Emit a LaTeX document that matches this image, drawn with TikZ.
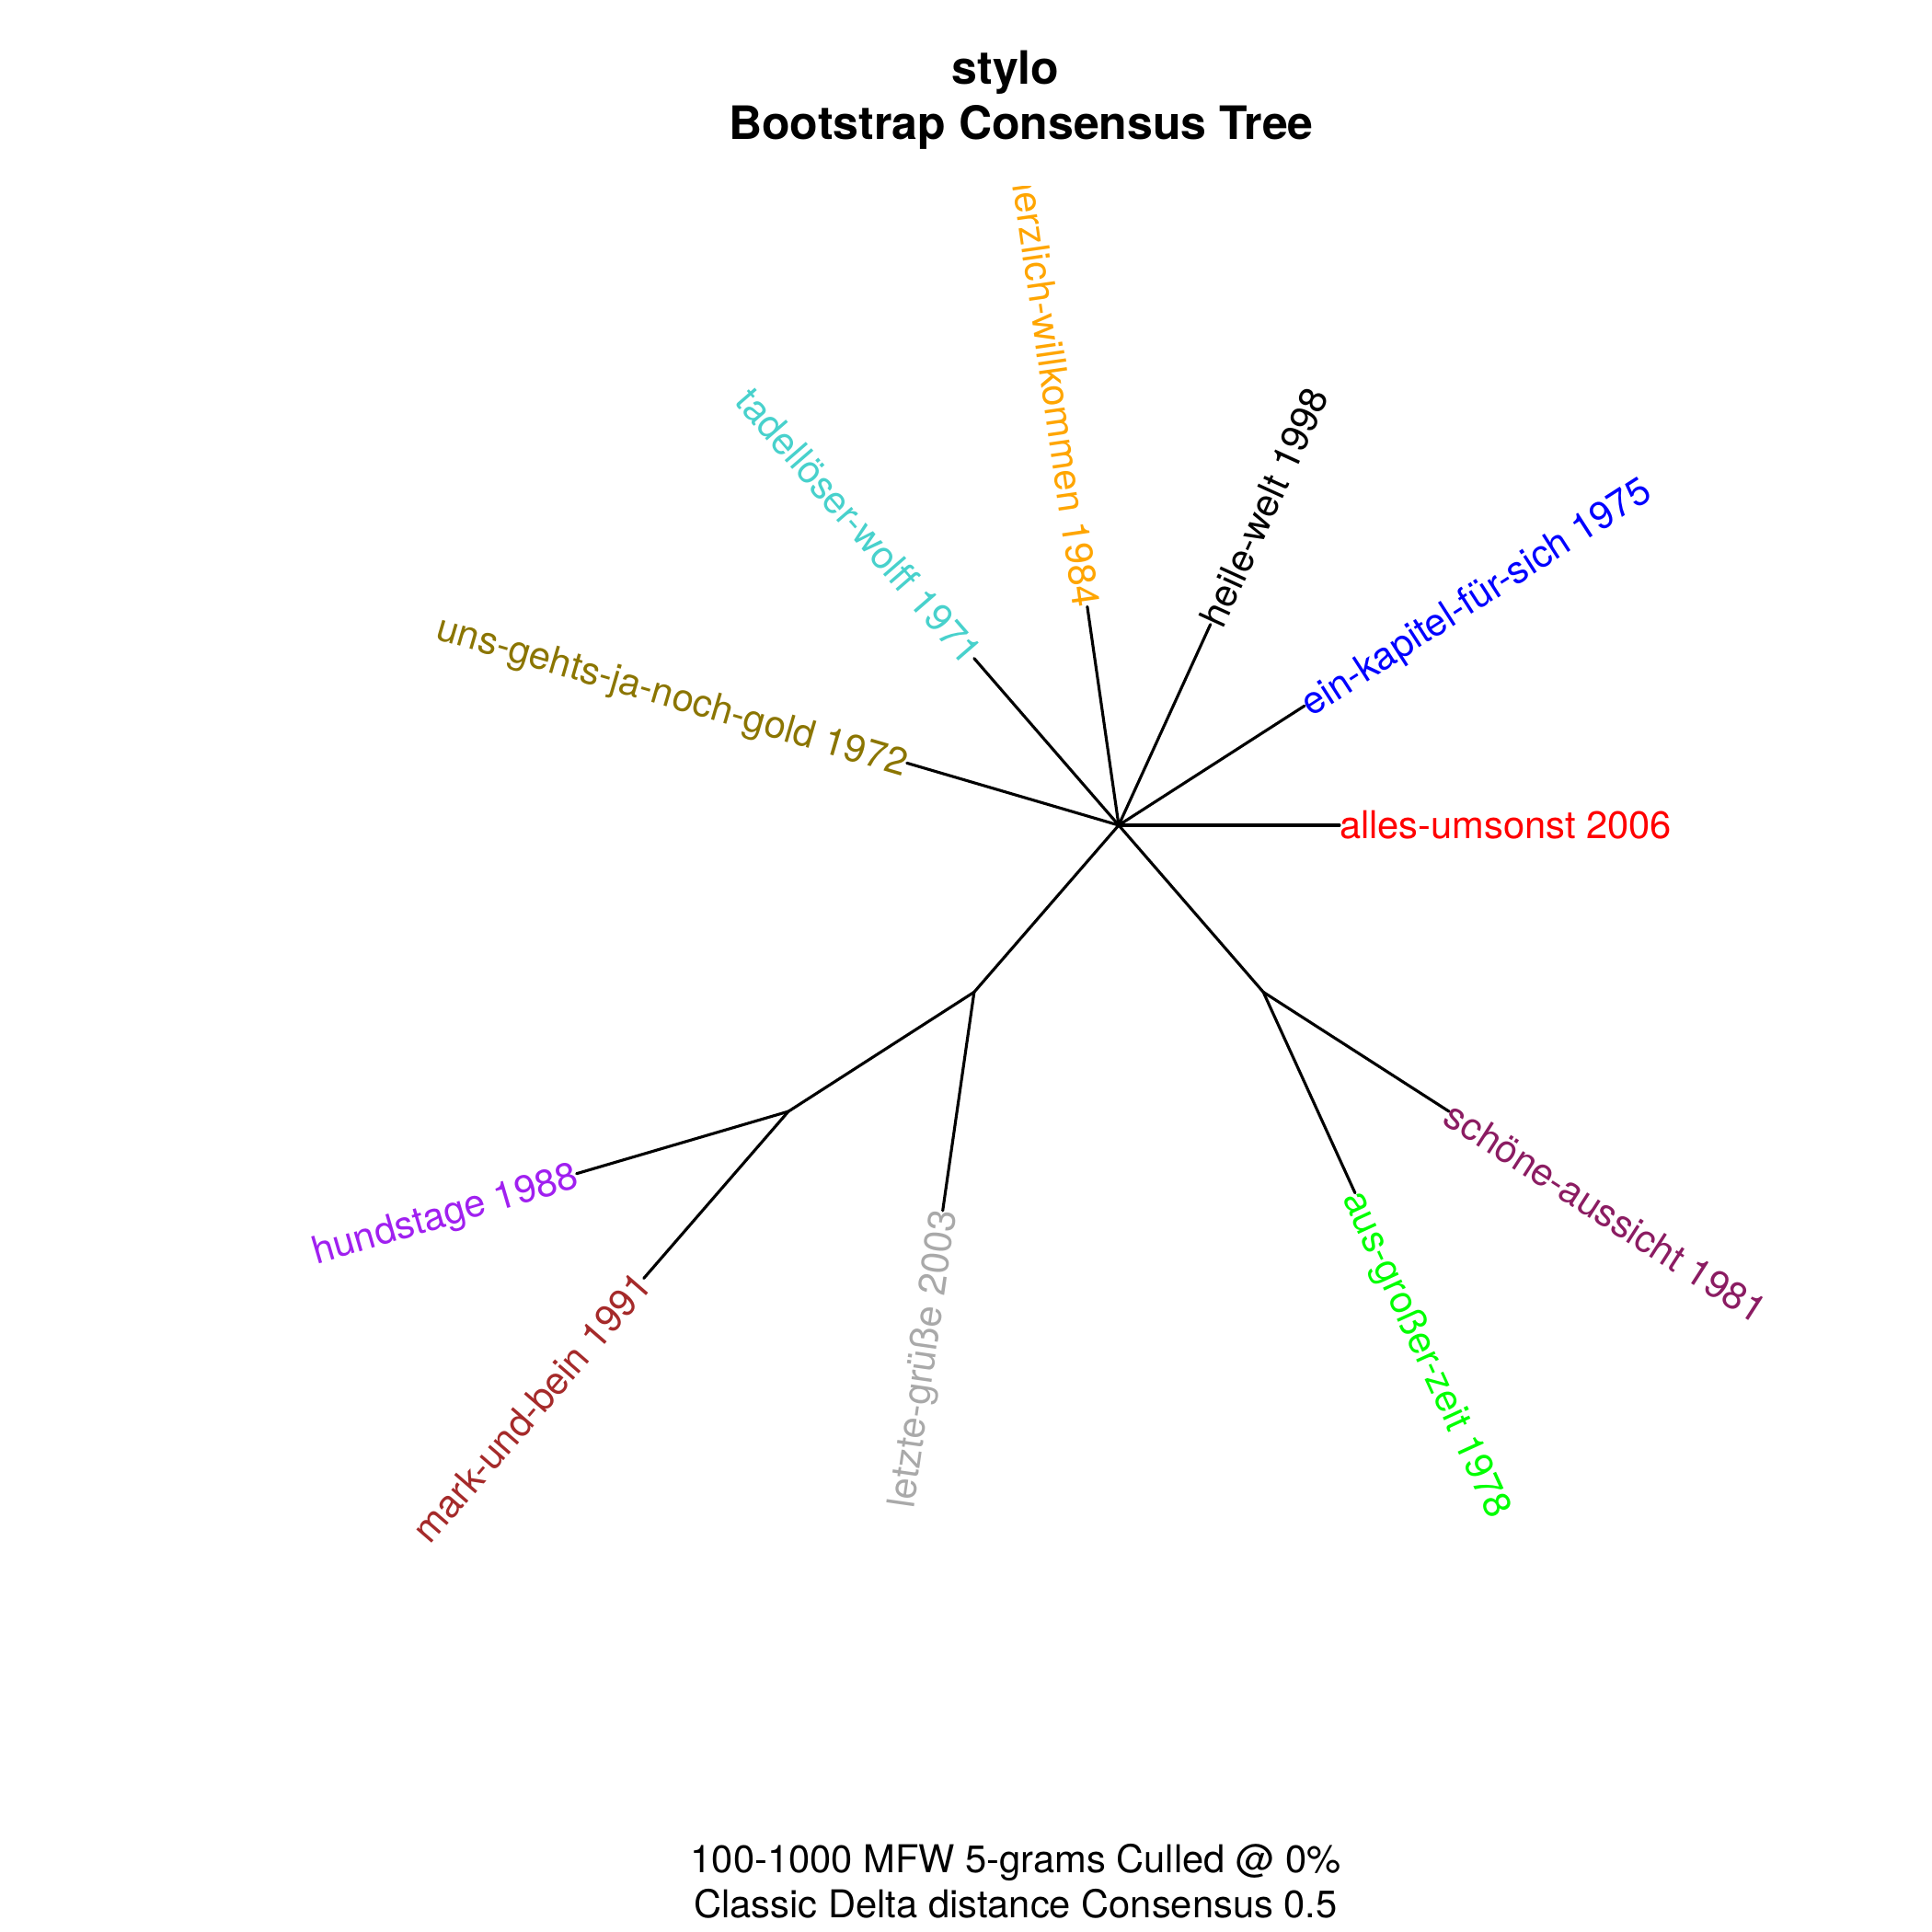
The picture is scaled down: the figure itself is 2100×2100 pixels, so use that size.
\documentclass[tikz,border=0pt]{standalone}
\usepackage{fontspec}
\setmainfont{TeX Gyre Heros}
\usetikzlibrary{calc}
\definecolor{cred}{HTML}{FF0000}
\definecolor{cblue}{HTML}{0000FF}
\definecolor{corange}{HTML}{FFA500}
\definecolor{cturq}{HTML}{48D1CC}
\definecolor{cgold}{HTML}{8B7500}
\definecolor{cpurple}{HTML}{A020F0}
\definecolor{cbrown}{HTML}{A52A2A}
\definecolor{cgrey}{HTML}{A9A9A9}
\definecolor{cgreen}{HTML}{00FF00}
\definecolor{cmaroon}{HTML}{8B1C62}
\begin{document}
\begin{tikzpicture}[x=0.24pt,y=0.24pt,
  branch/.style={line width=0.75pt, line cap=round, line join=round},
  lab/.style={inner sep=0pt, outer sep=0pt, text height=7.18pt, text depth=0pt, font=\fontsize{10}{12}\selectfont},
  labR/.style={lab, anchor=west},
  labL/.style={lab, anchor=east},
  ttl/.style={inner sep=0pt, anchor=base, font=\fontsize{12}{14.4}\selectfont\bfseries},
  sub/.style={inner sep=0pt, anchor=base, font=\fontsize{10}{12}\selectfont}]
\useasboundingbox (0,0) rectangle (2100,2100);
% tree geometry (equal-angle layout, unit branch length)
\coordinate (root) at (1216,1203);
\coordinate (t0) at ($(root)+(0:240)$);
\coordinate (t1) at ($(root)+(32.727:240)$);
\coordinate (t2) at ($(root)+(65.455:240)$);
\coordinate (t3) at ($(root)+(98.182:240)$);
\coordinate (t4) at ($(root)+(130.909:240)$);
\coordinate (t5) at ($(root)+(163.636:240)$);
\coordinate (n1) at ($(root)+(229.091:240)$);
\coordinate (n2) at ($(n1)+(212.727:240)$);
\coordinate (t6) at ($(n2)+(196.364:240)$);
\coordinate (t7) at ($(n2)+(229.091:240)$);
\coordinate (t8) at ($(n1)+(261.818:240)$);
\coordinate (n3) at ($(root)+(310.909:240)$);
\coordinate (t9) at ($(n3)+(294.545:240)$);
\coordinate (t10) at ($(n3)+(327.273:240)$);
% branches
\draw[branch] (root) -- (t0);
\draw[branch] (root) -- (t1);
\draw[branch] (root) -- (t2);
\draw[branch] (root) -- (t3);
\draw[branch] (root) -- (t4);
\draw[branch] (root) -- (t5);
\draw[branch] (root) -- (n1);
\draw[branch] (n1) -- (n2);
\draw[branch] (n2) -- (t6);
\draw[branch] (n2) -- (t7);
\draw[branch] (n1) -- (t8);
\draw[branch] (root) -- (n3);
\draw[branch] (n3) -- (t9);
\draw[branch] (n3) -- (t10);
% labels (clipped to the plot region)
\begin{scope}
\clip (0,0) rectangle (2100,1897);
\node[labR, rotate=0, text=cred] (l0) at (t0) {alles-umsonst 2006};
\node[labR, rotate=32.727, text=cblue] (l1) at (t1) {ein-kapitel-für-sich 1975};
\node[labR, rotate=65.455, text=black] (l2) at (t2) {heile-welt 1998};
\node[labL, rotate=-81.818, text=corange] (l3) at (t3) {herzlich-willkommen 1984};
\node[labL, rotate=-49.091, text=cturq] (l4) at (t4) {tadellöser-wolff 1971};
\node[labL, rotate=-16.364, text=cgold] (l5) at (t5) {uns-gehts-ja-noch-gold 1972};
\node[labL, rotate=16.364, text=cpurple] (l6) at (t6) {hundstage 1988};
\node[labL, rotate=49.091, text=cbrown] (l7) at (t7) {mark-und-bein 1991};
\node[labL, rotate=81.818, text=cgrey] (l8) at (t8) {letzte-grüße 2003};
\node[labR, rotate=-65.455, text=cgreen] (l9) at (t9) {aus-großer-zeit 1978};
\node[labR, rotate=-32.727, text=cmaroon] (l10) at (t10) {schöne-aussicht 1981};
\end{scope}
% titles
\node[ttl] (title1) at (1093,2008) {stylo};
\node[ttl] (title2) at (1110,1948) {Bootstrap Consensus Tree};
\node[sub] (sub1) at (1104,65) {100-1000 MFW 5-grams Culled @ 0\%};
\node[sub] (sub2) at (1104,15) {Classic Delta distance Consensus 0.5};
\end{tikzpicture}
\end{document}
